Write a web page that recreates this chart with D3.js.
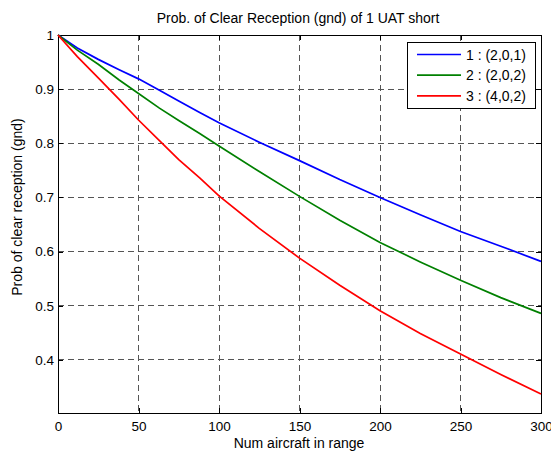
<!DOCTYPE html>
<html>
<head>
<meta charset="utf-8">
<script src="https://d3js.org/d3.v7.min.js"></script>
<style>
  body { margin: 0; background: #fff; }
  text { font-family: "Liberation Sans", Arial, sans-serif; fill: #000; }
</style>
</head>
<body>
<div id="chart"></div>
<script>
// values
var xs      = [0, 12, 25, 38, 50, 63, 75, 88, 100, 125, 150, 175, 200, 225, 250, 275, 300];
var blue    = [1, 0.976, 0.955, 0.936, 0.919, 0.898, 0.878, 0.857, 0.838, 0.802, 0.768, 0.733, 0.700, 0.668, 0.637, 0.610, 0.582];
var green   = [1, 0.972, 0.946, 0.917, 0.892, 0.865, 0.842, 0.818, 0.795, 0.748, 0.702, 0.658, 0.617, 0.581, 0.547, 0.515, 0.486];
var red     = [1, 0.960, 0.921, 0.881, 0.843, 0.805, 0.770, 0.736, 0.703, 0.643, 0.588, 0.538, 0.491, 0.449, 0.411, 0.373, 0.337];
var seriesNames = ["1 : (2,0,1)", "2 : (2,0,2)", "3 : (4,0,2)"];
var colors = ["#0000ff", "#008000", "#ff0000"];
var xTicks = [0, 50, 100, 150, 200, 250, 300];
var yTicks = [0.4, 0.5, 0.6, 0.7, 0.8, 0.9, 1];

var w = 551, h = 453;
var pL = 58, pR = 541, pT = 35, pB = 413;

var svg = d3.select("#chart").append("svg")
    .attr("width", w)
    .attr("height", h);

var x = d3.scaleLinear().domain([0, 300]).range([pL, pR]);
var y = d3.scaleLinear().domain([0.302, 1]).range([pB, pT]);

// grid
svg.append("g").selectAll("line").data(xTicks.slice(1, -1)).join("line")
    .attr("x1", d => x(d)).attr("x2", d => x(d))
    .attr("y1", pT).attr("y2", pB)
    .attr("stroke", "#555").attr("stroke-width", 1)
    .attr("stroke-dasharray", "6,4").attr("shape-rendering", "crispEdges");
svg.append("g").selectAll("line").data(yTicks.slice(0, -1)).join("line")
    .attr("x1", pL).attr("x2", pR)
    .attr("y1", d => y(d)).attr("y2", d => y(d))
    .attr("stroke", "#555").attr("stroke-width", 1)
    .attr("stroke-dasharray", "6,4").attr("shape-rendering", "crispEdges");

// axes (ticks inward, box on)
var xAxis = d3.axisBottom(x).tickValues(xTicks).tickSize(-5).tickPadding(8).tickFormat(d3.format("d"));
var yAxis = d3.axisLeft(y).tickValues(yTicks).tickSize(-5).tickPadding(4).tickFormat(d => d === 1 ? "1" : d3.format(".1f")(d));

svg.append("g").attr("transform", "translate(0," + pB + ")").call(xAxis);
svg.append("g").attr("transform", "translate(" + pL + ",0)").call(yAxis);
svg.append("g").attr("transform", "translate(0," + pT + ")")
    .call(d3.axisTop(x).tickValues(xTicks).tickSize(-5).tickFormat(""));
svg.append("g").attr("transform", "translate(" + pR + ",0)")
    .call(d3.axisRight(y).tickValues(yTicks).tickSize(-5).tickFormat(""));

svg.selectAll(".domain").attr("stroke", "#000").attr("stroke-width", 1).attr("shape-rendering", "crispEdges");
svg.selectAll(".tick line").attr("stroke", "#000").attr("shape-rendering", "crispEdges");
svg.selectAll(".tick text").style("font-size", "13.5px").style("font-family", "'Liberation Sans', Arial, sans-serif");

// lines
var line = d3.line().x((d, i) => x(xs[i])).y(d => y(d));
[blue, green, red].forEach(function (s, i) {
    svg.append("path")
        .datum(s)
        .attr("d", line)
        .attr("fill", "none")
        .attr("stroke", colors[i])
        .attr("stroke-width", 1.7);
});

// title and labels
svg.append("text").attr("x", 298).attr("y", 23)
    .attr("text-anchor", "middle").style("font-size", "14px")
    .text("Prob. of Clear Reception (gnd) of 1 UAT short");
svg.append("text").attr("x", 299).attr("y", 448)
    .attr("text-anchor", "middle").style("font-size", "14px")
    .text("Num aircraft in range");
svg.append("text").attr("transform", "translate(22," + 207 + ") rotate(-90)")
    .attr("text-anchor", "middle").style("font-size", "14px")
    .text("Prob of clear reception (gnd)");

// legend
var lg = svg.append("g");
lg.append("rect").attr("x", 407.5).attr("y", 42.5).attr("width", 128).attr("height", 66)
    .attr("fill", "#fff").attr("stroke", "#000").attr("stroke-width", 1);
seriesNames.forEach(function (name, i) {
    var yy = 54.5 + i * 20.7;
    lg.append("line").attr("x1", 417).attr("x2", 461).attr("y1", yy).attr("y2", yy)
        .attr("stroke", colors[i]).attr("stroke-width", 1.7);
    lg.append("text").attr("x", 466).attr("y", yy + 5).style("font-size", "14px").text(name);
});
</script>
</body>
</html>
